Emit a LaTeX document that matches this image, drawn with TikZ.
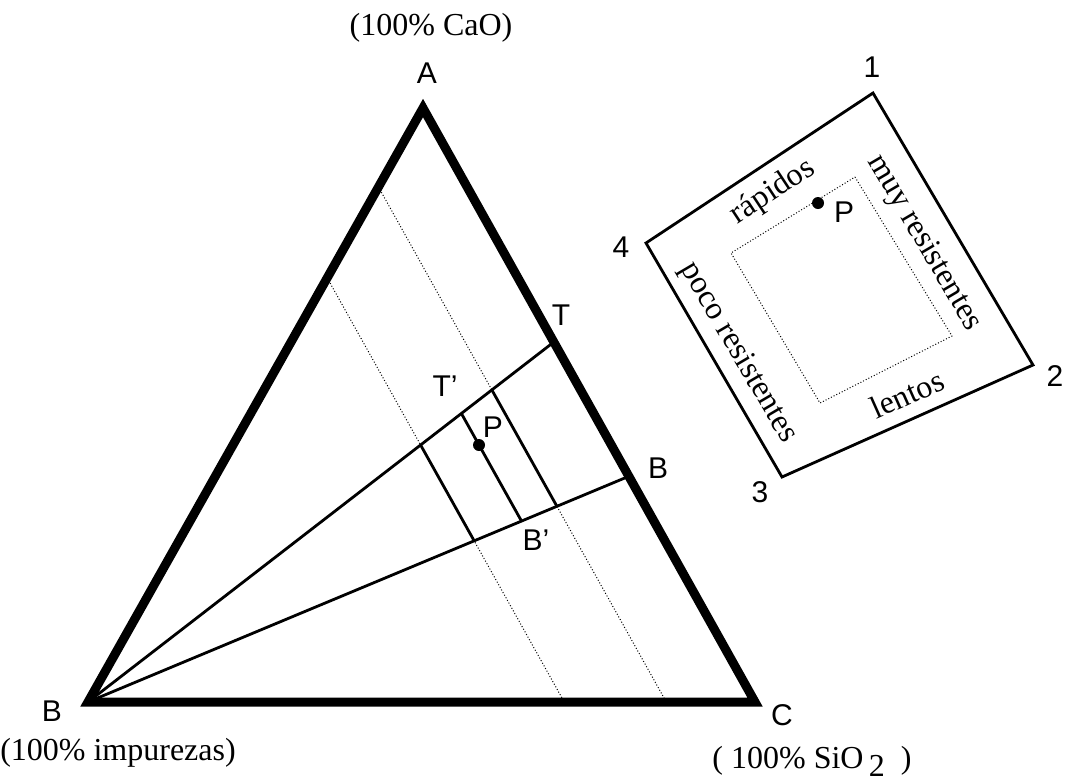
\documentclass[tikz,border=0pt]{standalone}
\usepackage{fontspec}
\setmainfont{Liberation Serif}
\setsansfont{Liberation Sans}
\usetikzlibrary{calc,intersections}

\begin{document}
\begin{tikzpicture}[
        x=0.5pt, y=-0.5pt,
        borde/.style={line width=4.5pt, line join=miter},
        recta/.style={line width=1.4pt},
        punteado/.style={densely dotted, line width=0.5pt},
        letra/.style={font=\sffamily\fontsize{15}{18}\selectfont, inner sep=0pt},
        texto/.style={font=\fontsize{16}{19}\selectfont, inner sep=0pt},
        punto/.style={circle, fill, inner sep=0pt, minimum size=6pt}
    ]

        \useasboundingbox (0,0) rectangle (1066,783);

        % ==================================================
        % TRIANGULO
        % ==================================================

        \coordinate (A) at (423,108);
        \coordinate (B) at (88,702);
        \coordinate (C) at (755,702);
        \coordinate (T) at ($(A)!0.394!(C)$);
        \coordinate (Bc) at ($(A)!0.62!(C)$);
        \coordinate (P) at (479,445);

        % Lineas paralelas a AC
        \coordinate (d1a) at ($(A)!0.286!(B)$);
        \coordinate (d1b) at ($(B)!0.714!(C)$);
        \coordinate (d2a) at ($(A)!0.133!(B)$);
        \coordinate (d2b) at ($(B)!0.867!(C)$);
        \coordinate (pa) at ($(P)+(-100,-179)$);
        \coordinate (pb) at ($(P)+(100,179)$);

        \draw[punteado, shorten <=3pt, name path=par1] (d1a) -- (d1b);
        \draw[punteado, shorten <=3pt, name path=par2] (d2a) -- (d2b);
        \path[name path=parP] (pa) -- (pb);

        % Rectas desde B
        \draw[recta, name path=rayoT] (B) -- (T);
        \draw[recta, name path=rayoB] (B) -- (Bc);

        \path[name intersections={of=rayoT and par1, by=s1}];
        \path[name intersections={of=rayoB and par1, by=s2}];
        \path[name intersections={of=rayoT and parP, by=s3}];
        \path[name intersections={of=rayoB and parP, by=s4}];
        \path[name intersections={of=rayoT and par2, by=s5}];
        \path[name intersections={of=rayoB and par2, by=s6}];

        \draw[recta] (s1) -- (s2);
        \draw[recta] (s3) -- (s4);
        \draw[recta] (s5) -- (s6);

        \draw[borde] (A) -- (B) -- (C) -- cycle;

        \node[punto] (pP) at (P) {};

        % Etiquetas
        \node[texto] (cao) at (431,28) {(100\% CaO)};
        \node[letra] (lA) at (427,73) {A};
        \node[letra] (lB) at (52,711) {B};
        \node[letra] (lC) at (782,715) {C};
        \node[texto] (imp) at (118,753) {(100\% impurezas)};
        \node[texto] (sio) at (812,761) {( 100\% SiO\,\raisebox{-0.25em}{2}\ \ )};
        \node[letra] (lT)  at (561,315) {T};
        \node[letra] (lTp) at (445,386) {T'};
        \node[letra] (lP)  at (493,427) {P};
        \node[letra] (lBc) at (658,468) {B};
        \node[letra] (lBp) at (536,540) {B'};

        % ==================================================
        % CUADRO
        % ==================================================

        \coordinate (c1) at (873,93);
        \coordinate (c2) at (1033,365);
        \coordinate (c3) at (782,477);
        \coordinate (c4) at (646,243);

        \coordinate (i1) at (855,177);
        \coordinate (i2) at (952,336);
        \coordinate (i3) at (820,403);
        \coordinate (i4) at (731,253);

        \draw[recta] (c1) -- (c2) -- (c3) -- (c4) -- cycle;
        \draw[punteado] (i1) -- (i2) -- (i3) -- (i4) -- cycle;

        \node[punto] (q) at (818,203) {};
        \node[letra] (lq) at (844,212) {P};

        \node[letra] (n1) at (872,67) {1};
        \node[letra] (n2) at (1055,376) {2};
        \node[letra] (n3) at (760,492) {3};
        \node[letra] (n4) at (621,247) {4};

        \node[texto, rotate=33.5]  (rap) at (773,192) {rápidos};
        \node[texto, rotate=-59.5] (muy) at (924,243) {muy resistentes};
        \node[texto, rotate=-59.5] (poc) at (738,353) {poco resistentes};
        \node[texto, rotate=24]    (len) at (907,394) {lentos};
    \end{tikzpicture}
\end{document}
